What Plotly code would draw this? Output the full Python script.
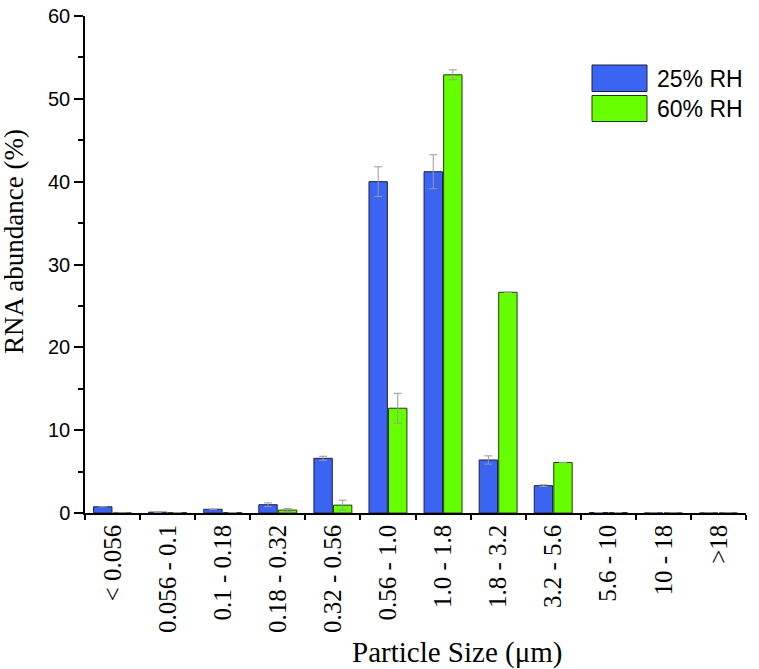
import plotly.graph_objects as go

categories = ["< 0.056", "0.056 - 0.1", "0.1 - 0.18", "0.18 - 0.32", "0.32 - 0.56",
              "0.56 - 1.0", "1.0 - 1.8", "1.8 - 3.2", "3.2 - 5.6", "5.6 - 10",
              "10 - 18", ">18"]
rh25 = [0.75, 0.1, 0.45, 1.0, 6.6, 40.0, 41.2, 6.4, 3.3, 0.06, 0.0, 0.0]
rh25_err = [0.0, 0.0, 0.0, 0.22, 0.25, 1.8, 2.05, 0.5, 0.1, 0.0, 0.0, 0.0]
rh60 = [0.0, 0.05, 0.05, 0.35, 0.95, 12.65, 52.9, 26.65, 6.1, 0.06, 0.0, 0.0]
rh60_err = [0.0, 0.0, 0.0, 0.2, 0.6, 1.8, 0.6, 0.0, 0.0, 0.0, 0.0, 0.0]
series_names = ["25% RH", "60% RH"]
yticks = [0, 10, 20, 30, 40, 50, 60]

BLUE = "#3c64f2"
GREEN = "#66ff00"

fig = go.Figure()
fig.add_trace(go.Bar(
    x=categories, y=rh25, name=series_names[0],
    marker=dict(color=BLUE, line=dict(color="#1a2040", width=1)),
    error_y=dict(type="data", array=rh25_err, visible=True, color="#999999",
                 thickness=1, width=4),
    showlegend=False,
))
fig.add_trace(go.Bar(
    x=categories, y=rh60, name=series_names[1],
    marker=dict(color=GREEN, line=dict(color="#1f3a10", width=1)),
    error_y=dict(type="data", array=rh60_err, visible=True, color="#999999",
                 thickness=1, width=4),
    showlegend=False,
))

W, H = 759, 669
L, R, T, B = 85, 13, 16, 156

def px_x(x):
    return (x - L) / (W - L - R)

def px_y(y):
    return 1 - (y - T) / (H - T - B)

shapes = [
    dict(type="rect", xref="paper", yref="paper",
         x0=px_x(592), x1=px_x(647), y0=px_y(91.5), y1=px_y(65),
         fillcolor=BLUE, line=dict(color="#1a2040", width=1)),
    dict(type="rect", xref="paper", yref="paper",
         x0=px_x(592), x1=px_x(647), y0=px_y(121.5), y1=px_y(95.5),
         fillcolor=GREEN, line=dict(color="#1f3a10", width=1)),
]
annotations = [
    dict(text=series_names[0], xref="paper", yref="paper", x=px_x(655), y=px_y(79),
         xanchor="left", yanchor="middle", showarrow=False,
         font=dict(family="Liberation Sans, Arial", size=23, color="black")),
    dict(text=series_names[1], xref="paper", yref="paper", x=px_x(655), y=px_y(109),
         xanchor="left", yanchor="middle", showarrow=False,
         font=dict(family="Liberation Sans, Arial", size=23, color="black")),
    dict(text="Particle Size (μm)", xref="paper", yref="paper", x=px_x(457), y=px_y(652),
         xanchor="center", yanchor="middle", showarrow=False,
         font=dict(family="Liberation Serif, Times New Roman", size=29, color="black")),
    dict(text="RNA abundance (%)", xref="paper", yref="paper", x=px_x(14), y=px_y(242),
         xanchor="center", yanchor="middle", showarrow=False, textangle=-90,
         font=dict(family="Liberation Serif, Times New Roman", size=27, color="black")),
]

fig.update_layout(
    width=W, height=H,
    margin=dict(l=L, r=R, t=T, b=B, autoexpand=False),
    paper_bgcolor="white", plot_bgcolor="white",
    barmode="group", bargap=0.29, bargroupgap=0.06,
    shapes=shapes, annotations=annotations,
    xaxis=dict(
        type="category", range=[-0.5, 11.5], automargin=False,
        showline=True, linecolor="black", linewidth=1.5,
        ticks="outside", tickson="boundaries", ticklen=5, tickwidth=1.5, tickcolor="black",
        tickangle=-90, showgrid=False, zeroline=False,
        tickfont=dict(family="Liberation Serif, Times New Roman", size=25, color="black"),
    ),
    yaxis=dict(
        range=[0, 60], tickvals=yticks, automargin=False,
        showline=True, linecolor="black", linewidth=1.5,
        ticks="outside", ticklen=9, tickwidth=1.5, tickcolor="black",
        minor=dict(dtick=5, ticks="outside", ticklen=5, tickwidth=1.5, tickcolor="black", showgrid=False),
        showgrid=False, zeroline=False,
        tickfont=dict(family="Liberation Sans, Arial", size=20, color="black"),
    ),
)

fig.write_html(
    "out.html",
    config={"displayModeBar": False},
    post_script="document.body.style.margin='0';document.body.style.overflow='hidden';",
)
